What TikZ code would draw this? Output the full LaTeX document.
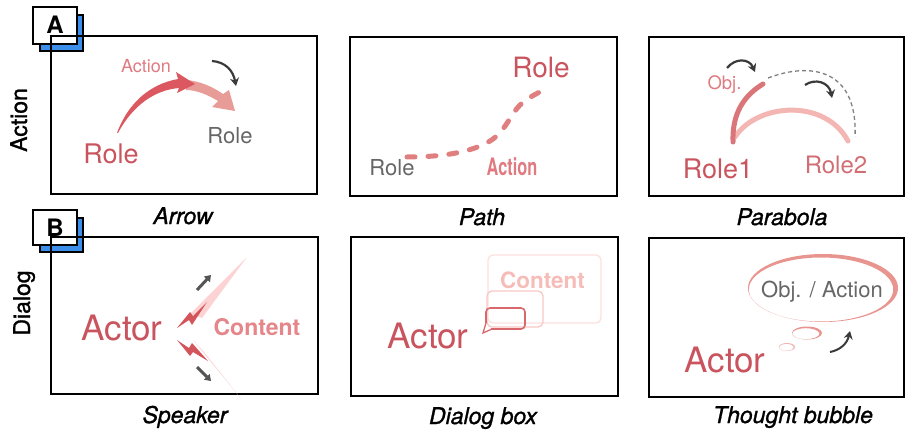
\documentclass[tikz,border=0pt]{standalone}
\usepackage{fontspec}
\setmainfont{TeX Gyre Heros}
\newfontfamily\condfont[FakeStretch=0.68]{TeX Gyre Heros}
\newfontfamily\capfont[FakeBold=1.2]{TeX Gyre Heros}
\usetikzlibrary{arrows.meta}
\newcommand\myfs[1]{\fontsize{#1}{#1}\selectfont}
\definecolor{rolered}{HTML}{C9545D}
\definecolor{actpink}{HTML}{E07A80}
\definecolor{txtgrey}{HTML}{666666}
\definecolor{arrred}{HTML}{DC5860}
\definecolor{arrpink}{HTML}{E89C97}
\definecolor{dashpink}{HTML}{E07F80}
\definecolor{arcdark}{HTML}{DA7679}
\definecolor{arclight}{HTML}{F3B6B2}
\definecolor{darkarr}{HTML}{3A3A3A}
\definecolor{badgeblue}{HTML}{3B8EEA}
\definecolor{contpink}{HTML}{E5868A}
\definecolor{raypink}{HTML}{FBCACA}
\definecolor{boltred}{HTML}{D4545C}
\definecolor{bubA}{HTML}{D9686C}
\definecolor{bubB}{HTML}{F8C8C4}
\definecolor{bubC}{HTML}{FBE0DE}
\definecolor{contlight}{HTML}{F6BDB8}
\definecolor{thought}{HTML}{E8958F}
\definecolor{thoughtlight}{HTML}{F2B4B0}
\definecolor{arrgrey}{HTML}{555555}
\tikzset{
  panel/.style={draw=black, line width=2pt},
  txt/.style={inner sep=0pt, anchor=base},
  caption/.style={txt, font=\myfs{23}\capfont\itshape},
  rowlabel/.style={txt, rotate=90, font=\myfs{23}\capfont},
  badgeletter/.style={txt, font=\myfs{24}\bfseries},
  darkarrow/.style={draw=darkarr, line width=2.2pt, -{Stealth[length=8pt,width=9pt]}},
  greyarrow/.style={draw=arrgrey, line width=3pt, -{Triangle[length=6pt,width=8pt]}},
}
\begin{document}
\begin{tikzpicture}[x=1pt,y=-1pt]
\useasboundingbox (0,0) rectangle (907,433);

% ---------- badges ----------
\fill[badgeblue, draw=black, line width=1.5pt] (40,15) rectangle (83,51);
\fill[white, draw=black, line width=1.5pt] (33,7) rectangle (77,44);
\node[badgeletter] (badgeA) at (55,34) {A};
\fill[badgeblue, draw=black, line width=1.5pt] (40,218) rectangle (83,252);
\fill[white, draw=black, line width=1.5pt] (33,210) rectangle (77,245);
\node[badgeletter] (badgeB) at (55,236) {B};

% ---------- row labels ----------
\node[rowlabel] (rowA) at (27,120) {Action};
\node[rowlabel] (rowB) at (30,303) {Dialog};

% ---------- panels ----------
\draw[panel] (51,36) rectangle (317,194);
\draw[panel] (350,37) rectangle (617,196);
\draw[panel] (649,37) rectangle (904,196);
\draw[panel] (51,237) rectangle (318,394);
\draw[panel] (351,237) rectangle (618,396);
\draw[panel] (649,238) rectangle (904,397);

% ---------- captions ----------
\node[caption] (capA1) at (183,224) {Arrow};
\node[caption] (capA2) at (482,225) {Path};
\node[caption] (capA3) at (782,225) {Parabola};
\node[caption] (capB1) at (185,423) {Speaker};
\node[caption] (capB2) at (483,424) {Dialog box};
\node[caption] (capB3) at (793,423) {Thought bubble};

% ---------- A1 Arrow ----------
\fill[arrpink] (186,80) .. controls (200,81) and (213,87) .. (223,94)
  -- (229,90) -- (235,111) -- (212,107) -- (218,101)
  .. controls (208,95) and (197,90) .. (186,90) -- cycle;
\fill[arrred] (117,133) .. controls (128,103) and (150,84) .. (178,79)
  -- (176,72) -- (195,84) -- (177,93) -- (179,88)
  .. controls (155,90) and (133,105) .. (118,133) -- cycle;
\node[txt, font=\myfs{18}, text=actpink] (a1act) at (146,73) {Action};
\node[txt, font=\myfs{27}, text=rolered] (a1role) at (111,163) {Role};
\node[txt, font=\myfs{22}, text=txtgrey] (a1role2) at (230,143) {Role};
\draw[darkarrow] (212,61) .. controls (225,62) and (233,70) .. (236,86);

% ---------- A2 Path ----------
\draw[dashpink, line width=5pt, line cap=round, dash pattern=on 8pt off 13pt]
  (407,157) .. controls (440,157) and (470,153) .. (490,141)
  .. controls (505,132) and (510,115) .. (520,105)
  .. controls (530,96) and (540,92) .. (548,88);
\node[txt, font=\myfs{22}, text=txtgrey] (a2role) at (392,175) {Role};
\node[txt, font=\myfs{28}, text=rolered] (a2role2) at (541,78) {Role};
\node[txt, font=\myfs{24}\condfont\bfseries, text=actpink] (a2act) at (512,175) {Action};

% ---------- A3 Parabola ----------
\draw[arclight, line width=5pt, line cap=round] (735,137) .. controls (757,103) and (825,98) .. (848,141);
\draw[arcdark, line width=5pt, line cap=round] (733,142) .. controls (732,112) and (745,95) .. (763,84);
\draw[gray, line width=1.3pt, dash pattern=on 4pt off 3pt] (768,78) .. controls (810,62) and (858,68) .. (855,137);
\draw[darkarrow] (727,68) .. controls (735,58) and (749,58) .. (755,72);
\draw[darkarrow] (805,85) .. controls (815,78) and (829,82) .. (832,98);
\node[txt, font=\myfs{18.5}, text=actpink] (a3obj) at (724.5,90) {Obj.};
\node[txt, font=\myfs{27}, text=rolered] (a3r1) at (718,178) {Role1};
\node[txt, font=\myfs{24}, text=rolered!85!white] (a3r2) at (836,173) {Role2};

% ---------- B1 Speaker ----------
\fill[raypink, opacity=0.85] (190,314) -- (247,257) -- (202,318) -- cycle;
\fill[raypink, opacity=0.85] (193,340) -- (243,401) -- (204,352) -- cycle;
\fill[boltred] (177,328) -- (189,320) -- (192,325) -- (207,302) -- (193,316) -- (190,312) -- cycle;
\fill[boltred] (177,340) -- (189,348) -- (192,343) -- (208,361) -- (193,352) -- (190,356) -- cycle;
\draw[greyarrow] (197,290) -- (211,275);
\draw[greyarrow] (197,367) -- (211,381);
\node[txt, font=\myfs{35}, text=rolered] (b1actor) at (122,340) {Actor};
\node[txt, font=\myfs{23}\bfseries, text=contpink] (b1cont) at (257,335) {Content};

% ---------- B2 Dialog box ----------
\draw[bubC, line width=1.3pt, rounded corners=5pt] (488,255) rectangle (601,323);
\draw[bubB, line width=1.3pt, rounded corners=5pt] (487,291) rectangle (543,327);
\node[txt, font=\myfs{22.5}\bfseries, text=contlight] (b2cont) at (542.5,288) {Content};
\draw[bubA, line width=1.6pt, rounded corners=4pt] (486,323) -- (486,308) -- (525,308) -- (525,329) -- (491,329);
\draw[bubA, line width=1.3pt] (486,323) -- (483,333) -- (492,329);
\node[txt, font=\myfs{35}, text=rolered] (b2actor) at (428,348) {Actor};

% ---------- B3 Thought bubble ----------
\fill[thought, even odd rule] (823,288) ellipse[x radius=75pt, y radius=34pt]
  (821,289.5) ellipse[x radius=72.2pt, y radius=32pt];
\fill[thought, even odd rule] (807,333) ellipse[x radius=15pt, y radius=6.5pt]
  (805.8,333.7) ellipse[x radius=13.6pt, y radius=5.5pt];
\fill[thoughtlight, even odd rule] (787,347) ellipse[x radius=8pt, y radius=4pt]
  (786.5,347.3) ellipse[x radius=7.1pt, y radius=3.4pt];
\node[txt, font=\myfs{22}, text=txtgrey] (b3obj) at (822,297) {Obj. / Action};
\draw[darkarrow, line width=2pt] (830,352) .. controls (840,350) and (847,344) .. (850,331);
\node[txt, font=\myfs{35}, text=rolered] (b3actor) at (725,372) {Actor};
\end{tikzpicture}
\end{document}
